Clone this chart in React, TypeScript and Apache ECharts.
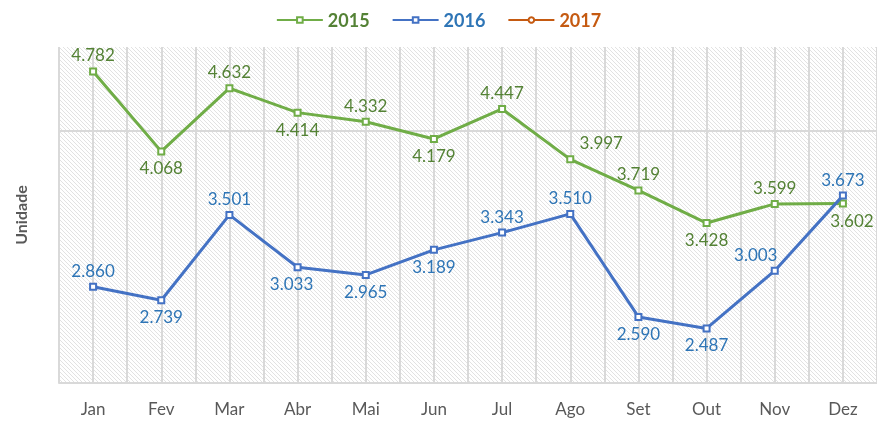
import React, { useEffect, useRef } from "react";
import * as echarts from "echarts";

const months = ["Jan", "Fev", "Mar", "Abr", "Mai", "Jun", "Jul", "Ago", "Set", "Out", "Nov", "Dez"];
const values2015 = [4.782, 4.068, 4.632, 4.414, 4.332, 4.179, 4.447, 3.997, 3.719, 3.428, 3.599, 3.602];
const values2016 = [2.86, 2.739, 3.501, 3.033, 2.965, 3.189, 3.343, 3.51, 2.59, 2.487, 3.003, 3.673];
const values2017: number[] = [];
const labelPos2015 = ["top", "bottom", "top", "bottom", "top", "bottom", "top", "top", "top", "bottom", "top", "bottom"];
const labelPos2016 = ["top", "bottom", "top", "bottom", "bottom", "bottom", "top", "top", "bottom", "bottom", "top", "top"];
const labelOffset2015: Record<number, number[]> = { 7: [31, 0], 11: [9, 0] };
const labelOffset2016: Record<number, number[]> = { 3: [-6, 0], 10: [-19, 0] };

const FONT = "Lato, 'Open Sans', sans-serif";

function makeHatch() {
  const s = 4;
  const c = document.createElement("canvas");
  c.width = s;
  c.height = s;
  const ctx = c.getContext("2d")!;
  ctx.fillStyle = "#ffffff";
  ctx.fillRect(0, 0, s, s);
  ctx.strokeStyle = "#e2e2e2";
  ctx.lineWidth = 1;
  for (const o of [-s, 0, s]) {
    ctx.beginPath();
    ctx.moveTo(o, 0);
    ctx.lineTo(o + s, s);
    ctx.stroke();
  }
  return c;
}

export default function App() {
  const ref = useRef<HTMLDivElement>(null);
  useEffect(() => {
    if (!ref.current) return;
    const chart = echarts.init(ref.current, null, { renderer: "svg" });
    const mk = (vals: number[], pos: string[], offs: Record<number, number[]>, color: string) =>
      vals.map((v, i) => ({
        value: v,
        label: { position: pos[i], offset: offs[i] || [0, 0], color },
      }));
    chart.setOption({
      animation: false,
      textStyle: { fontFamily: FONT },
      legend: {
        top: 6,
        left: "center",
        itemWidth: 46,
        itemHeight: 7,
        itemGap: 22,
        textStyle: { fontSize: 18, fontWeight: "bold", fontFamily: FONT },
        data: [
          { name: "2015", textStyle: { color: "#548235" } },
          { name: "2016", textStyle: { color: "#2E75B6" } },
          { name: "2017", textStyle: { color: "#C55A11" } },
        ],
      },
      grid: {
        left: 59,
        top: 47,
        width: 820,
        bottom: 42,
        show: true,
        borderWidth: 0,
        backgroundColor: { image: makeHatch(), repeat: "repeat" },
      },
      xAxis: [
        {
          type: "category",
          data: months,
          boundaryGap: true,
          axisLine: { lineStyle: { color: "#d9d9d9", width: 2 } },
          axisTick: { show: false },
          axisLabel: { color: "#595959", fontSize: 17, margin: 17, fontFamily: FONT },
          splitLine: { show: false },
        },
        {
          type: "value",
          min: 0,
          max: 24,
          interval: 1,
          position: "top",
          axisLine: { show: false },
          axisTick: { show: false },
          axisLabel: { show: false },
          splitLine: { show: true, lineStyle: { color: "#d9d9d9", width: 2 } },
        },
      ],
      yAxis: {
        type: "value",
        min: 2,
        max: 5,
        interval: 0.75,
        name: "Unidade",
        nameLocation: "middle",
        nameGap: 31,
        nameTextStyle: { color: "#595959", fontSize: 16, fontWeight: "bold", fontFamily: FONT },
        axisLine: { show: false },
        axisTick: { show: false },
        axisLabel: { show: false },
        splitLine: {
          show: true,
          lineStyle: {
            color: ["rgba(0,0,0,0)", "rgba(0,0,0,0)", "rgba(0,0,0,0)", "#d9d9d9", "rgba(0,0,0,0)"],
            width: 2,
          },
        },
      },
      series: [
        {
          name: "2015",
          type: "line",
          data: mk(values2015, labelPos2015, labelOffset2015, "#548235"),
          symbol: "emptyRect",
          symbolSize: 6,
          lineStyle: { color: "#70AD47", width: 3 },
          itemStyle: { color: "#70AD47", borderWidth: 2 },
          label: {
            show: true,
            fontSize: 17,
            fontFamily: FONT,
            distance: 4,
            formatter: (p: any) => p.value.toFixed(3),
          },
          z: 3,
        },
        {
          name: "2016",
          type: "line",
          data: mk(values2016, labelPos2016, labelOffset2016, "#2E75B6"),
          symbol: "emptyRect",
          symbolSize: 6,
          lineStyle: { color: "#4472C4", width: 3 },
          itemStyle: { color: "#4472C4", borderWidth: 2 },
          label: {
            show: true,
            fontSize: 17,
            fontFamily: FONT,
            distance: 4,
            formatter: (p: any) => p.value.toFixed(3),
          },
          z: 4,
        },
        {
          name: "2017",
          type: "line",
          data: values2017,
          symbol: "emptyCircle",
          symbolSize: 9,
          lineStyle: { color: "#C55A11", width: 3 },
          itemStyle: { color: "#C55A11", borderWidth: 2 },
        },
      ],
    });
    return () => chart.dispose();
  }, []);
  return <div ref={ref} style={{ position: "fixed", left: 0, top: 0, width: 877, height: 425 }} />;
}
